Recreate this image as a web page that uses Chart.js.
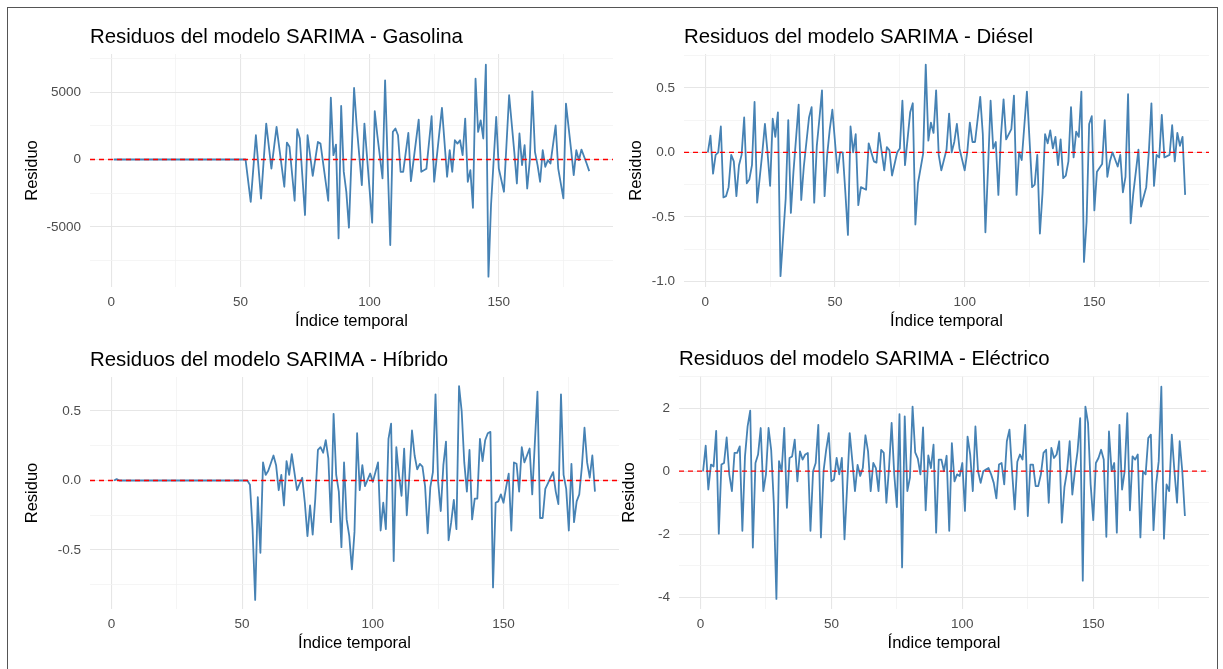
<!DOCTYPE html>
<html lang="es">
<head>
<meta charset="utf-8">
<title>Residuos del modelo SARIMA</title>
<script src="https://cdn.jsdelivr.net/npm/chart.js@4.4.0/dist/chart.umd.min.js"></script>
<style>
  html, body { margin: 0; padding: 0; background: #fff; }
  #page { position: relative; width: 1223px; height: 669px; overflow: hidden; background: #fff; }
  #frame { position: absolute; left: 7px; top: 7px; width: 1211px; height: 700px; border: 1px solid #555; box-sizing: border-box; }
  canvas { position: absolute; }
</style>
</head>
<body>
<div id="page">
  <div id="frame"></div>
  <canvas id="gasolina" width="614" height="334" style="left:0px;top:0px"></canvas>
  <canvas id="diesel" width="609" height="334" style="left:614px;top:0px"></canvas>
  <canvas id="hibrido" width="620" height="334" style="left:0px;top:322px"></canvas>
  <canvas id="electrico" width="609" height="334" style="left:614px;top:322px"></canvas>
</div>
<script>
// [índice temporal, residuo]
const gasolinaResid = [
  [1, 0], [52, 0], [54, -3140], [56, 1800], [58, -2900], [60, 2670], [62, -670], [64, 2420], [67, -2020], [68, 1260],
  [69, 950], [71, -3060], [72, 2250], [73, 1560], [75, -4120], [76, 1800], [78, -1210], [80, 1300], [81, 1180], [84, -3060],
  [85, 4590], [86, 320], [87, 1110], [88, -5850], [89, 3970], [90, -900], [91, -2400], [92, -5060], [94, 5310], [95, 2540],
  [97, -1900], [98, 2670], [101, -4690], [102, 3580], [103, 1800], [105, -1400], [106, 5880], [108, -6350], [109, 2050], [110, 2300],
  [111, 1800], [112, -910], [113, -910], [115, 1970], [116, -1600], [119, 2960], [120, -910], [121, -800], [122, -680], [124, 3210],
  [125, -1650], [128, 3830], [130, -1280], [131, 690], [132, -910], [133, 1430], [134, 1180], [135, 1430], [136, 320], [137, 3040],
  [138, -1650], [139, -790], [140, -3580], [141, 6000], [142, 2050], [143, 2910], [144, 1560], [145, 7040], [146, -8690], [147, -3380],
  [149, 3160], [150, -670], [152, -2390], [154, 4770], [156, 570], [157, -1780], [158, 1930], [159, -420], [160, 1060], [161, -2150],
  [162, -80], [163, 5060], [164, 570], [165, -420], [166, -1650], [167, 690], [168, -540], [169, -50], [170, -300], [172, 2540],
  [173, -670], [175, -2890], [176, 4150], [178, 700], [179, -1160], [180, 690], [181, -50], [182, 740], [184, -300], [185, -860]
];

const dieselResid = [
  [1, 0], [2, 0.13], [3, -0.165], [4, -0.02], [5, 0], [6, 0.2], [7, -0.35], [8, -0.34], [9, -0.27], [10, -0.02],
  [11, -0.07], [12, -0.34], [13, -0.1], [14, -0.02], [15, 0.27], [16, -0.24], [17, -0.21], [18, -0.1], [19, 0.39], [20, -0.39],
  [22, 0], [23, 0.22], [24, 0], [25, -0.26], [26, 0.26], [27, 0.12], [28, 0.31], [29, -0.96], [31, -0.36], [32, 0.25],
  [33, -0.47], [34, -0.15], [36, 0.37], [37, -0.37], [38, -0.11], [40, 0.27], [41, 0.35], [42, -0.39], [43, 0.05], [44, 0.26],
  [45, 0.48], [46, -0.34], [47, -0.02], [48, 0.18], [49, 0.33], [51, -0.16], [52, 0], [53, 0], [54, -0.31], [55, -0.64],
  [56, 0.2], [57, 0], [58, 0.14], [59, -0.41], [60, -0.27], [62, -0.29], [63, 0.07], [65, -0.07], [66, -0.08], [67, 0.15],
  [69, -0.14], [70, 0.04], [71, 0.015], [72, -0.18], [74, 0], [75, 0.03], [76, 0.4], [77, -0.1], [79, 0.31], [80, 0.38],
  [81, -0.56], [82, -0.24], [84, -0.01], [85, 0.68], [86, 0.09], [87, 0.23], [88, 0.15], [89, 0.48], [90, -0.02], [91, -0.14],
  [93, 0.02], [94, 0.3], [95, 0], [96, 0.08], [97, 0.22], [98, 0.03], [100, -0.14], [101, 0], [102, 0.23], [103, 0.08],
  [104, 0.08], [106, 0.43], [107, 0.14], [108, -0.62], [109, -0.13], [110, 0.4], [111, 0.03], [112, 0.08], [113, -0.33], [114, 0.13],
  [115, 0.41], [116, 0.1], [118, 0.18], [119, 0.44], [120, -0.33], [121, 0], [122, -0.06], [124, 0.47], [126, -0.27], [127, -0.25],
  [128, -0.02], [129, -0.63], [130, -0.32], [131, 0.14], [132, 0.07], [133, 0.17], [134, 0.03], [135, 0.12], [136, -0.1], [137, 0.1],
  [138, -0.2], [139, -0.18], [140, -0.07], [141, 0.35], [142, -0.04], [143, 0.16], [144, 0.12], [145, 0.47], [146, -0.85], [147, -0.54],
  [148, 0.22], [149, 0.28], [150, -0.45], [151, -0.15], [153, -0.09], [154, 0.25], [155, -0.19], [156, -0.07], [157, 0], [159, -0.11],
  [160, -0.02], [161, -0.31], [162, -0.19], [163, 0.45], [164, -0.55], [165, -0.32], [167, 0.02], [168, -0.42], [170, -0.27], [171, 0],
  [172, 0.38], [173, -0.26], [174, -0.02], [175, -0.04], [176, 0.29], [177, -0.04], [179, -0.02], [180, 0.21], [181, -0.07], [182, 0.15],
  [183, 0.05], [184, 0.12], [185, -0.33]
];

const hibridoResid = [
  [1, 0], [2, 0.01], [3, 0], [52, 0], [53, -0.03], [54, -0.35], [55, -0.86], [56, -0.12], [57, -0.52], [58, 0.13],
  [59, 0.04], [60, 0.07], [62, 0.18], [63, 0.11], [64, -0.07], [65, 0.04], [66, -0.18], [67, 0.14], [68, 0.04], [69, 0.19],
  [70, 0.06], [71, -0.07], [73, 0.02], [74, -0.16], [75, -0.4], [76, -0.18], [77, -0.39], [78, -0.13], [79, 0.22], [80, 0.24],
  [81, 0.2], [82, 0.29], [83, 0.16], [84, -0.3], [85, 0.48], [86, 0.04], [87, -0.08], [88, -0.48], [89, 0.13], [90, -0.28],
  [91, -0.4], [92, -0.64], [93, -0.37], [94, 0.34], [95, -0.07], [96, 0.11], [97, -0.04], [99, 0.05], [100, -0.01], [101, 0.06],
  [102, 0.13], [103, -0.36], [104, -0.16], [105, -0.35], [106, 0.3], [107, 0.41], [108, -0.58], [109, 0.24], [110, 0.04], [111, -0.11],
  [112, 0.23], [113, -0.25], [114, 0.04], [115, 0.36], [116, 0.18], [117, 0.08], [118, 0.12], [119, 0.1], [120, -0.04], [121, -0.38],
  [122, -0.05], [123, 0.06], [124, 0.62], [125, -0.01], [126, -0.22], [127, 0.11], [128, 0.28], [129, -0.43], [130, -0.3], [131, -0.14],
  [132, -0.35], [133, 0.68], [134, 0.5], [135, 0.13], [136, -0.08], [137, 0.22], [138, -0.28], [139, -0.13], [140, -0.13], [141, 0.3],
  [142, 0.14], [143, 0.29], [144, 0.34], [145, 0.35], [146, -0.77], [147, -0.16], [148, -0.15], [149, -0.1], [150, -0.16], [151, -0.05],
  [152, 0.05], [153, -0.36], [154, 0.13], [155, 0.12], [156, -0.08], [157, 0.24], [158, 0.13], [160, 0.23], [161, -0.1], [163, 0.64],
  [164, -0.27], [165, -0.27], [166, -0.06], [167, -0.02], [168, 0.02], [169, 0.06], [170, -0.08], [171, -0.17], [172, 0.62], [173, 0.04],
  [174, -0.06], [175, -0.36], [176, 0.12], [177, -0.3], [178, -0.15], [179, -0.1], [180, 0.1], [181, 0.38], [182, 0.13], [183, 0.02],
  [184, 0.18], [185, -0.08]
];

const electricoResid = [
  [1, 0], [2, 0.81], [3, -0.58], [4, 0.21], [5, 0.15], [6, 1.28], [7, -1.98], [8, 0.21], [9, 0.26], [10, 1.07],
  [11, -0.1], [12, -0.63], [13, 0.58], [14, 0.58], [15, 0.79], [16, -1.89], [17, 0.47], [18, 1.42], [19, 1.92], [20, -2.42],
  [21, 0.26], [22, 0.53], [23, 1.37], [24, -0.63], [25, -0.1], [26, 1.37], [27, 0.68], [28, -1.0], [29, -4.05], [30, 0.32],
  [31, 0], [32, 1.37], [33, -1.16], [34, 0.42], [35, 0.47], [36, 1.0], [37, -0.32], [38, 0.63], [39, 0.37], [40, 0.53],
  [41, 0.58], [42, -1.89], [43, 0], [44, 0.26], [45, 1.47], [46, -2.1], [47, 0], [48, 0.68], [49, 1.21], [50, -0.32],
  [51, -0.26], [52, 0.42], [53, -0.1], [54, 0.42], [55, -2.16], [56, -0.5], [57, 1.21], [58, 0.32], [59, -0.63], [60, 0.2],
  [61, -0.15], [62, 0.1], [63, 1.14], [64, 0.63], [65, -0.63], [66, 0.26], [67, 0.1], [68, -0.63], [69, 0.68], [70, 0.58],
  [71, -1.0], [72, 0.1], [73, 1.53], [74, -0.1], [75, -1.14], [76, 1.81], [77, -3.05], [78, 1.74], [79, -0.63], [80, -0.2],
  [81, 2.05], [82, 0.6], [83, 0.4], [84, -0.1], [85, 1.39], [86, -1.24], [87, 0.5], [88, 0.1], [89, 0.84], [90, -1.95],
  [91, 0.37], [92, 0.37], [93, 0], [94, 0.49], [95, -1.89], [96, 0.89], [97, -0.32], [98, -0.1], [99, -0.15], [100, 0.26],
  [101, -1.26], [102, 1.1], [103, 0.53], [104, -0.63], [105, 1.42], [106, 0], [107, -0.37], [108, 0], [109, 0.05], [110, 0.1],
  [111, -0.1], [112, -0.37], [113, -0.86], [114, 0.21], [115, 0.26], [116, -0.42], [117, 0.95], [118, 1.32], [119, 0], [120, -1.21],
  [121, 0.3], [122, 0.53], [123, 0.37], [124, 1.47], [125, -1.42], [126, 0.21], [127, 0.21], [128, -0.47], [129, -0.47], [130, -0.1],
  [131, 0.58], [132, 0.68], [133, -1.0], [134, 0.74], [135, 0.42], [136, 0.53], [137, 0.95], [138, -1.63], [139, -0.5], [140, 0],
  [141, 0.95], [142, -0.74], [143, 0], [144, 0.63], [145, 1.68], [146, -3.47], [147, 2.05], [148, 1.53], [149, -0.42], [150, -1.55],
  [151, 0.26], [152, 0.42], [153, 0.68], [154, 0.37], [155, -2.08], [156, 1.26], [157, 0], [158, 0.26], [159, -1.95], [160, 1.47],
  [161, -0.58], [162, 0], [163, 1.84], [164, -1.24], [165, 0.47], [166, 0.37], [167, 0.53], [168, -2.1], [169, 0], [170, -0.1],
  [171, 1.05], [172, 1.16], [173, -1.87], [174, -0.42], [175, 0.32], [176, 2.68], [177, -2.14], [178, -0.42], [179, -0.63], [180, 1.16],
  [181, 0], [182, -1.0], [183, 0.95], [184, 0], [185, -1.42]
];

// axis breaks (all gridlines) and the ones that carry a label
const xBreaks = [0, 25, 50, 75, 100, 125, 150, 175];
const xLabels = [0, 50, 100, 150];
const gasolinaBreaks = [-7500, -5000, -2500, 0, 2500, 5000, 7500];
const gasolinaLabels = [-5000, 0, 5000];
const dieselBreaks = [-1, -0.75, -0.5, -0.25, 0, 0.25, 0.5, 0.75];
const dieselLabels = [-1, -0.5, 0, 0.5];
const hibridoBreaks = [-0.75, -0.5, -0.25, 0, 0.25, 0.5];
const hibridoLabels = [-0.5, 0, 0.5];
const electricoBreaks = [-4, -3, -2, -1, 0, 1, 2, 3];
const electricoLabels = [-4, -2, 0, 2];

const xRange = [-8.2, 194.2];
const refLine = 0;

Chart.defaults.font.family = '"Liberation Sans", Arial, sans-serif';

// title drawn flush with the panel's left edge (like ggplot)
const panelTitle = {
	id: "panelTitle",
	afterDraw(chart, args, opts) {
		const ctx = chart.ctx;
		ctx.save();
		ctx.font = '20.4px "Liberation Sans", Arial, sans-serif';
		ctx.fillStyle = "#000";
		ctx.textAlign = "left";
		ctx.textBaseline = "alphabetic";
		ctx.fillText(opts.text, chart.chartArea.left, chart.chartArea.top - 11.5);
		ctx.restore();
	},
};

// dashed red reference line at residual 0
const zeroLine = {
	id: "zeroLine",
	afterDatasetsDraw(chart) {
		const ctx = chart.ctx;
		const y = chart.scales.y.getPixelForValue(refLine);
		ctx.save();
		ctx.strokeStyle = "#FF0000";
		ctx.lineWidth = 1.3;
		ctx.setLineDash([5, 4]);
		ctx.beginPath();
		ctx.moveTo(chart.chartArea.left, y);
		ctx.lineTo(chart.chartArea.right, y);
		ctx.stroke();
		ctx.restore();
	},
};

function gridColor(labels) {
	return (c) => (c.tick && labels.includes(c.tick.value) ? "#E6E6E6" : "#F2F2F2");
}
function gridWidth(labels) {
	return (c) => (c.tick && labels.includes(c.tick.value) ? 1.1 : 0.8);
}

function buildPanel(id, p) {
	const ctx = document.getElementById(id).getContext("2d");
	new Chart(ctx, {
		type: "line",
		data: {
			datasets: [
				{
					data: p.resid.map((d) => ({ x: d[0], y: d[1] })),
					borderColor: "#4682B4",
					borderWidth: 1.8,
					borderJoinStyle: "round",
					pointRadius: 0,
					tension: 0,
					fill: false,
				},
			],
		},
		options: {
			responsive: false,
			animation: false,
			events: [],
			layout: { padding: p.padding },
			plugins: {
				legend: { display: false },
				tooltip: { enabled: false },
				panelTitle: { text: p.title },
			},
			scales: {
				x: {
					type: "linear",
					min: xRange[0],
					max: xRange[1],
					afterBuildTicks: (s) => {
						s.ticks = xBreaks.map((v) => ({ value: v }));
					},
					afterFit: (s) => {
						s.height = 46;
					},
					border: { display: false },
					grid: { drawTicks: false, color: gridColor(xLabels), lineWidth: gridWidth(xLabels) },
					ticks: {
						autoSkip: false,
						maxRotation: 0,
						padding: 7,
						color: "#4D4D4D",
						font: { size: 13.5 },
						callback: (v) => (xLabels.includes(v) ? String(v) : ""),
					},
					title: {
						display: true,
						text: "Índice temporal",
						color: "#000",
						font: { size: 16.5 },
						padding: { top: 0, bottom: 2 },
					},
				},
				y: {
					min: p.yRange[0],
					max: p.yRange[1],
					afterBuildTicks: (s) => {
						s.ticks = p.breaks.filter((v) => v >= p.yRange[0] && v <= p.yRange[1]).map((v) => ({ value: v }));
					},
					afterFit: (s) => {
						s.width = p.yWidth;
					},
					border: { display: false },
					grid: { drawTicks: false, color: gridColor(p.labels), lineWidth: gridWidth(p.labels) },
					ticks: {
						autoSkip: false,
						padding: 9,
						color: "#4D4D4D",
						font: { size: 13.5 },
						callback: (v) => (p.labels.includes(v) ? p.fmt(v) : ""),
					},
					title: {
						display: true,
						text: "Residuo",
						color: "#000",
						font: { size: 16.5 },
						padding: { top: p.titleGap, bottom: 0 },
					},
				},
			},
		},
		plugins: [panelTitle, zeroLine],
	});
}

document.addEventListener("DOMContentLoaded", function () {
	buildPanel("gasolina", {
		title: "Residuos del modelo SARIMA - Gasolina",
		resid: gasolinaResid,
		breaks: gasolinaBreaks,
		labels: gasolinaLabels,
		yRange: [-9460, 7830],
		fmt: (v) => String(v),
		padding: { left: 8, right: 1, top: 54, bottom: 1 },
		yWidth: 82,
		titleGap: 15,
	});
	buildPanel("diesel", {
		title: "Residuos del modelo SARIMA - Diésel",
		resid: dieselResid,
		breaks: dieselBreaks,
		labels: dieselLabels,
		yRange: [-1.044, 0.762],
		fmt: (v) => v.toFixed(1),
		padding: { left: 0, right: 14, top: 54, bottom: 1 },
		yWidth: 70,
		titleGap: 13,
	});
	buildPanel("hibrido", {
		title: "Residuos del modelo SARIMA - Híbrido",
		resid: hibridoResid,
		breaks: hibridoBreaks,
		labels: hibridoLabels,
		yRange: [-0.925, 0.745],
		fmt: (v) => v.toFixed(1),
		padding: { left: 8, right: 1, top: 55, bottom: 1 },
		yWidth: 82,
		titleGap: 15,
	});
	buildPanel("electrico", {
		title: "Residuos del modelo SARIMA - Eléctrico",
		resid: electricoResid,
		breaks: electricoBreaks,
		labels: electricoLabels,
		yRange: [-4.37, 3.02],
		fmt: (v) => String(v),
		padding: { left: 0, right: 14, top: 54, bottom: 1 },
		yWidth: 65,
		titleGap: 6,
	});
});
</script>
</body>
</html>
